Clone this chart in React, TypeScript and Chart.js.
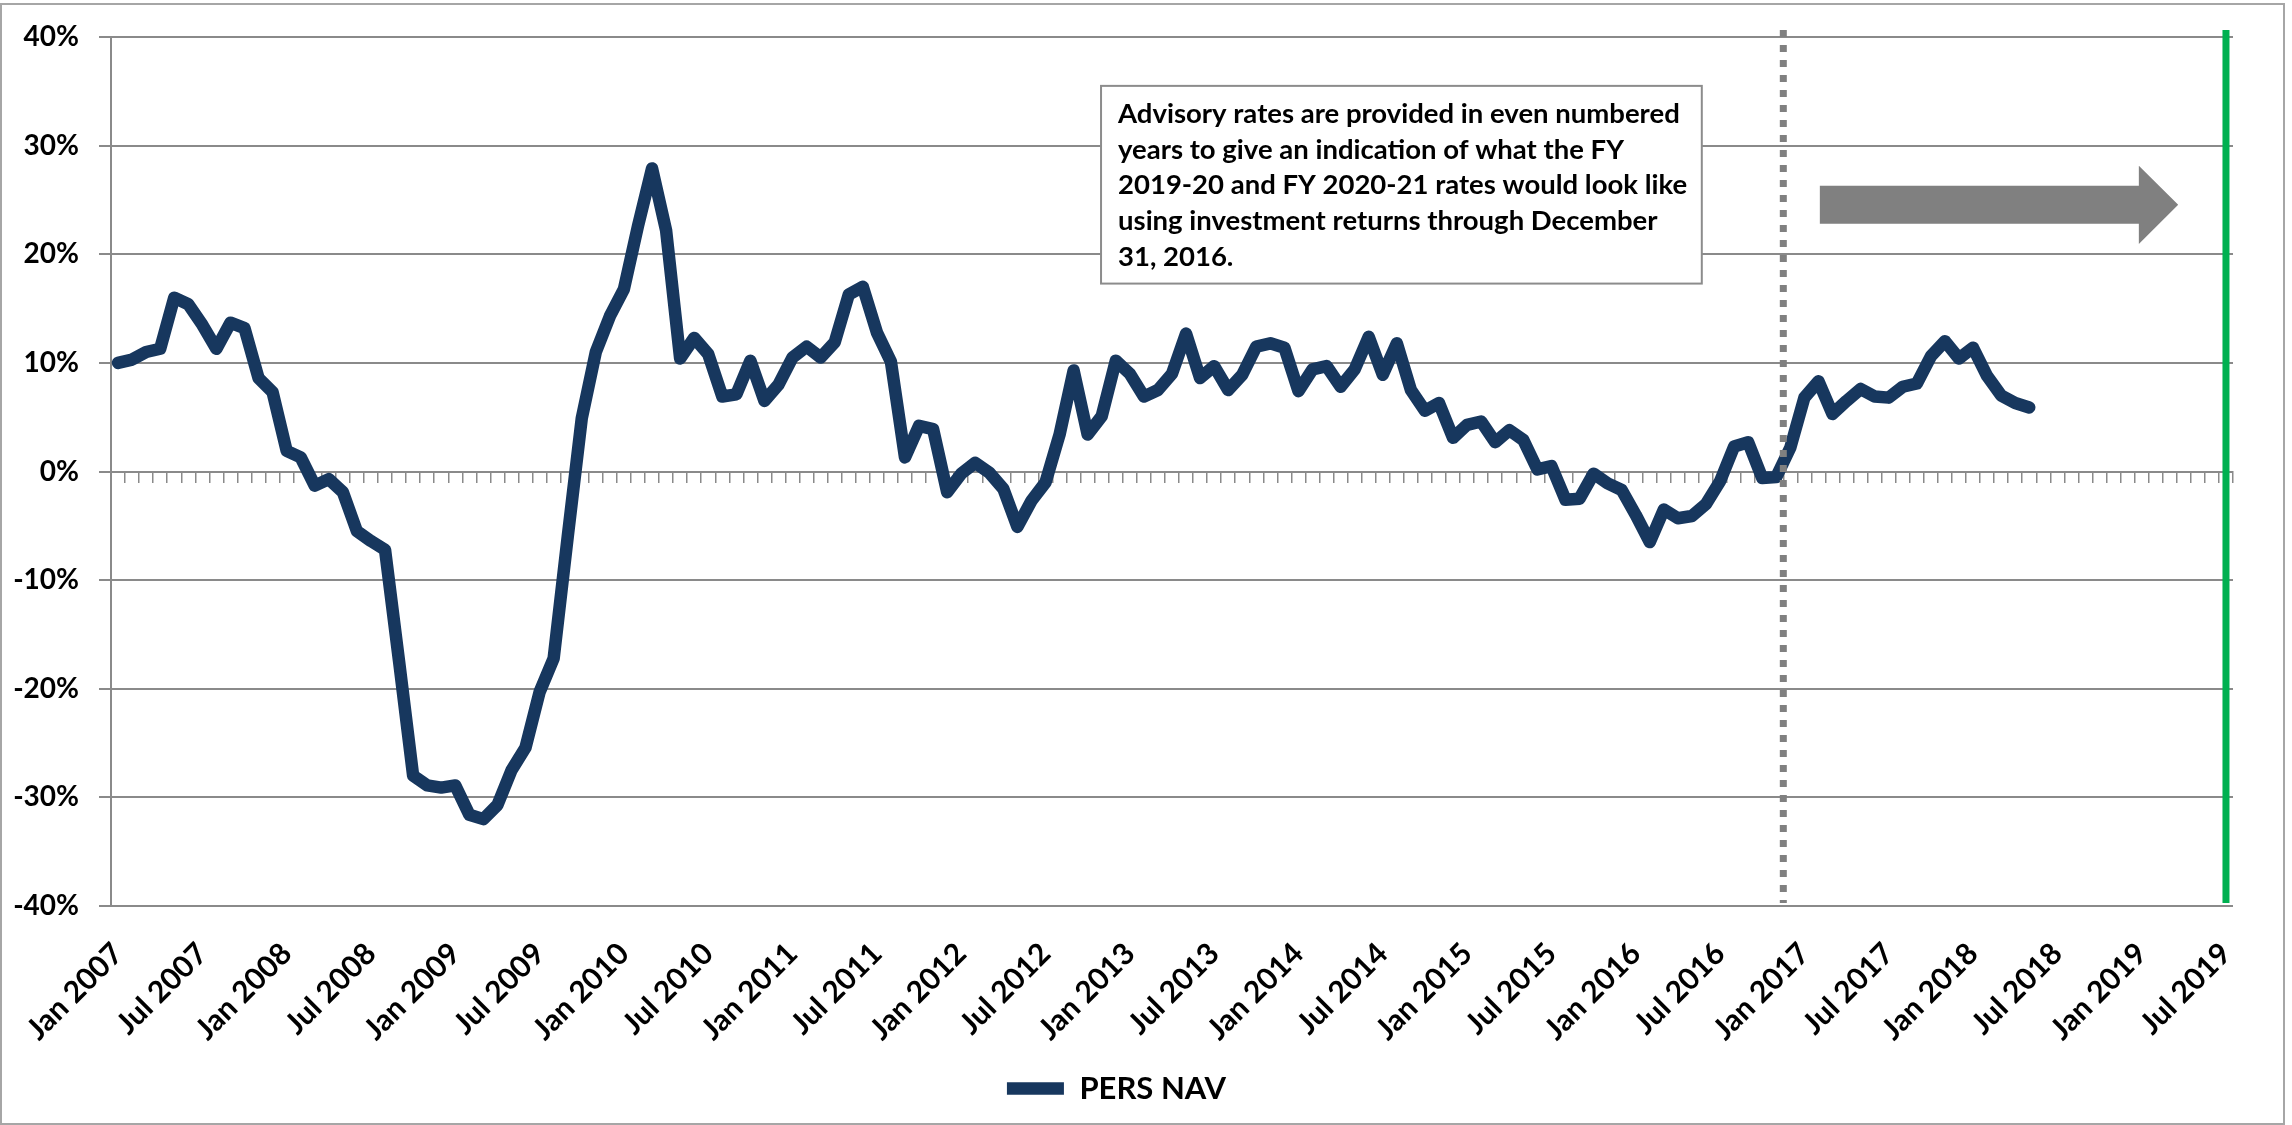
import React, { useEffect, useRef } from 'react';
import { Chart, registerables } from 'chart.js';

Chart.register(...registerables);

// ---------- data ----------
const MONTH_NAMES = ['Jan', 'Feb', 'Mar', 'Apr', 'May', 'Jun', 'Jul', 'Aug', 'Sep', 'Oct', 'Nov', 'Dec'];
const FIRST_YEAR = 2007;
const LAST_YEAR = 2019;
const LAST_MONTH = 'Jul';
const LABELLED_MONTHS = ['Jan', 'Jul'];

const CATEGORIES: string[] = [];
for (let yr = FIRST_YEAR; yr <= LAST_YEAR; yr++) {
  for (const m of MONTH_NAMES) {
    CATEGORIES.push(`${m} ${yr}`);
    if (yr === LAST_YEAR && m === LAST_MONTH) break;
  }
}

const SERIES_NAME = 'PERS NAV';
// monthly values in %, Jan 2007 .. May 2018
const PERS_NAV = [
  10.0, 10.3, 11.0, 11.3, 16.0, 15.4, 13.5, 11.3, 13.7, 13.2, 8.6, 7.3,
  1.9, 1.3, -1.3, -0.7, -1.9, -5.5, -6.4, -7.2, -17.5, -28.0, -28.9, -29.1,
  -28.9, -31.6, -32.0, -30.7, -27.5, -25.4, -20.3, -17.2, -6.0, 4.9, 11.0, 14.3,
  16.8, 22.6, 27.9, 22.2, 10.4, 12.3, 10.8, 6.9, 7.1, 10.2, 6.5, 8.0,
  10.5, 11.5, 10.5, 11.9, 16.3, 17.0, 12.8, 10.1, 1.3, 4.2, 3.9, -1.9,
  -0.2, 0.8, -0.1, -1.6, -5.1, -2.7, -1.0, 3.4, 9.3, 3.4, 5.1, 10.2,
  9.0, 6.9, 7.5, 9.0, 12.7, 8.6, 9.7, 7.5, 8.9, 11.5, 11.8, 11.4,
  7.4, 9.4, 9.7, 7.8, 9.4, 12.4, 8.9, 11.8, 7.5, 5.6, 6.3, 3.1,
  4.3, 4.6, 2.7, 3.8, 2.9, 0.2, 0.5, -2.6, -2.5, -0.2, -1.1, -1.7,
  -4.0, -6.5, -3.5, -4.3, -4.1, -3.0, -0.9, 2.3, 2.7, -0.6, -0.5, 2.2,
  6.8, 8.3, 5.3, 6.5, 7.6, 6.9, 6.8, 7.8, 8.1, 10.6, 12.0, 10.4,
  11.4, 8.8, 7.0, 6.3, 5.9,
];

const Y_MIN = -40;
const Y_MAX = 40;
const Y_STEP = 10;

const NOTE_LINES = [
  'Advisory rates are provided in even numbered',
  'years to give an indication of what the FY',
  '2019-20 and FY 2020-21 rates would look like',
  'using investment returns through December',
  '31, 2016.',
];

// annotation anchors (in scale units)
const DIVIDER_AT = CATEGORIES.indexOf('Dec 2016') - 0.5;
const HORIZON_AT = CATEGORIES.indexOf('Jul 2019');
const NOTE_BOX = { from: 69.95, to: 112.7, top: 35.5, bottom: 17.3 };
const ARROW = { from: 121.1, headStart: 143.8, to: 146.6, y: 24.55, bodyHalf: 1.75, headHalf: 3.6 };

// ---------- styles ----------
const FONT = 'Lato';
const NAVY = '#17375e';
const GRID = '#8a8a8a';

const annotationPlugin = {
  id: 'annotations',
  beforeDraw(chart: any) {
    const { ctx, width, height } = chart;
    ctx.save();
    ctx.fillStyle = '#ffffff';
    ctx.fillRect(0, 0, width, height);
    ctx.strokeStyle = '#a6a6a6';
    ctx.lineWidth = 2;
    ctx.strokeRect(1, 4, width - 9, height - 5);
    ctx.restore();
  },
  afterDatasetsDraw(chart: any) {
    const { ctx } = chart;
    const xs = chart.scales.x;
    const ys = chart.scales.y;
    const top = ys.getPixelForValue(Y_MAX) - 7;
    const bottom = ys.getPixelForValue(Y_MIN) - 3;
    ctx.save();

    // note box
    const bx0 = xs.getPixelForValue(NOTE_BOX.from);
    const bx1 = xs.getPixelForValue(NOTE_BOX.to);
    const by0 = ys.getPixelForValue(NOTE_BOX.top);
    const by1 = ys.getPixelForValue(NOTE_BOX.bottom);
    ctx.fillStyle = '#ffffff';
    ctx.fillRect(bx0, by0, bx1 - bx0, by1 - by0);
    ctx.strokeStyle = '#8c8c8c';
    ctx.lineWidth = 2;
    ctx.strokeRect(bx0, by0, bx1 - bx0, by1 - by0);
    ctx.fillStyle = '#000000';
    ctx.font = `bold 27.5px ${FONT}`;
    ctx.textBaseline = 'middle';
    ctx.textAlign = 'left';
    NOTE_LINES.forEach((line, i) => {
      ctx.fillText(line, bx0 + 17, by0 + 28 + i * 35.8);
    });

    // arrow
    const ax0 = xs.getPixelForValue(ARROW.from);
    const axh = xs.getPixelForValue(ARROW.headStart);
    const ax1 = xs.getPixelForValue(ARROW.to);
    const ayc = ys.getPixelForValue(ARROW.y);
    const ayb0 = ys.getPixelForValue(ARROW.y + ARROW.bodyHalf);
    const ayb1 = ys.getPixelForValue(ARROW.y - ARROW.bodyHalf);
    const ayh0 = ys.getPixelForValue(ARROW.y + ARROW.headHalf);
    const ayh1 = ys.getPixelForValue(ARROW.y - ARROW.headHalf);
    ctx.fillStyle = '#808080';
    ctx.beginPath();
    ctx.moveTo(ax0, ayb0);
    ctx.lineTo(axh, ayb0);
    ctx.lineTo(axh, ayh0);
    ctx.lineTo(ax1, ayc);
    ctx.lineTo(axh, ayh1);
    ctx.lineTo(axh, ayb1);
    ctx.lineTo(ax0, ayb1);
    ctx.closePath();
    ctx.fill();

    // dotted divider
    const dx = xs.getPixelForValue(DIVIDER_AT);
    ctx.strokeStyle = '#808080';
    ctx.lineWidth = 7;
    ctx.setLineDash([7, 8]);
    ctx.lineCap = 'butt';
    ctx.beginPath();
    ctx.moveTo(dx, top);
    ctx.lineTo(dx, bottom);
    ctx.stroke();

    // green horizon line
    const gx = xs.getPixelForValue(HORIZON_AT);
    ctx.setLineDash([]);
    ctx.strokeStyle = '#00b050';
    ctx.lineWidth = 7;
    ctx.beginPath();
    ctx.moveTo(gx, top);
    ctx.lineTo(gx, bottom);
    ctx.stroke();

    ctx.restore();
  },
};

export default function App() {
  const canvasRef = useRef<HTMLCanvasElement | null>(null);

  useEffect(() => {
    document.body.style.margin = '0';
    const canvas = canvasRef.current;
    if (!canvas) return;
    Chart.defaults.font.family = FONT;
    Chart.defaults.color = '#000000';

    const chart = new Chart(canvas, {
      type: 'line',
      data: {
        labels: CATEGORIES,
        datasets: [
          {
            label: SERIES_NAME,
            data: PERS_NAV,
            borderColor: NAVY,
            backgroundColor: NAVY,
            borderWidth: 12.5,
            pointRadius: 0,
            pointHoverRadius: 0,
            tension: 0,
            borderJoinStyle: 'round',
            borderCapStyle: 'round',
            xAxisID: 'x',
            yAxisID: 'y',
          },
        ],
      },
      options: {
        animation: false,
        responsive: true,
        maintainAspectRatio: false,
        devicePixelRatio: 1,
        layout: { padding: { left: 0, top: 37, right: 59, bottom: 11 } },
        plugins: {
          tooltip: { enabled: false },
          legend: {
            position: 'bottom',
            labels: {
              usePointStyle: true,
              pointStyle: 'line',
              pointStyleWidth: 57,
              padding: 10,
              color: '#000000',
              font: { family: FONT, size: 31, weight: 'bold' },
            },
          },
        },
        scales: {
          x: {
            type: 'category',
            position: 'bottom',
            offset: true,
            grid: { display: false },
            border: { display: false },
            ticks: {
              autoSkip: false,
              maxRotation: 45,
              minRotation: 45,
              padding: 22,
              color: '#000000',
              font: { family: FONT, size: 30, weight: 'bold' },
              callback: (_v: any, i: number) => {
                const lab = CATEGORIES[i];
                return LABELLED_MONTHS.includes(lab.split(' ')[0]) ? lab : '';
              },
            },
            afterFit: (scale: any) => {
              scale.height = 157;
            },
          },
          x2: {
            type: 'category',
            labels: CATEGORIES,
            position: { y: 0 },
            offset: true,
            grid: {
              display: true,
              drawOnChartArea: false,
              drawTicks: true,
              tickLength: 10,
              offset: true,
              color: GRID,
              lineWidth: 1.5,
            },
            border: { display: true, color: GRID, width: 2 },
            ticks: { display: false, autoSkip: false },
          },
          y: {
            type: 'linear',
            position: 'left',
            min: Y_MIN,
            max: Y_MAX,
            ticks: {
              stepSize: Y_STEP,
              padding: 20,
              color: '#000000',
              font: { family: FONT, size: 28, weight: 'bold' },
              callback: (v: any) => `${v}%`,
            },
            grid: { color: GRID, lineWidth: 2, drawTicks: true, tickLength: 12 },
            border: { display: true, color: GRID, width: 2 },
            afterFit: (scale: any) => {
              scale.width = 111;
            },
          },
        },
      },
      plugins: [annotationPlugin],
    });

    return () => chart.destroy();
  }, []);

  return (
    <div style={{ position: 'fixed', left: 0, top: 0, width: 2292, height: 1125, background: '#ffffff' }}>
      <canvas ref={canvasRef} />
    </div>
  );
}
